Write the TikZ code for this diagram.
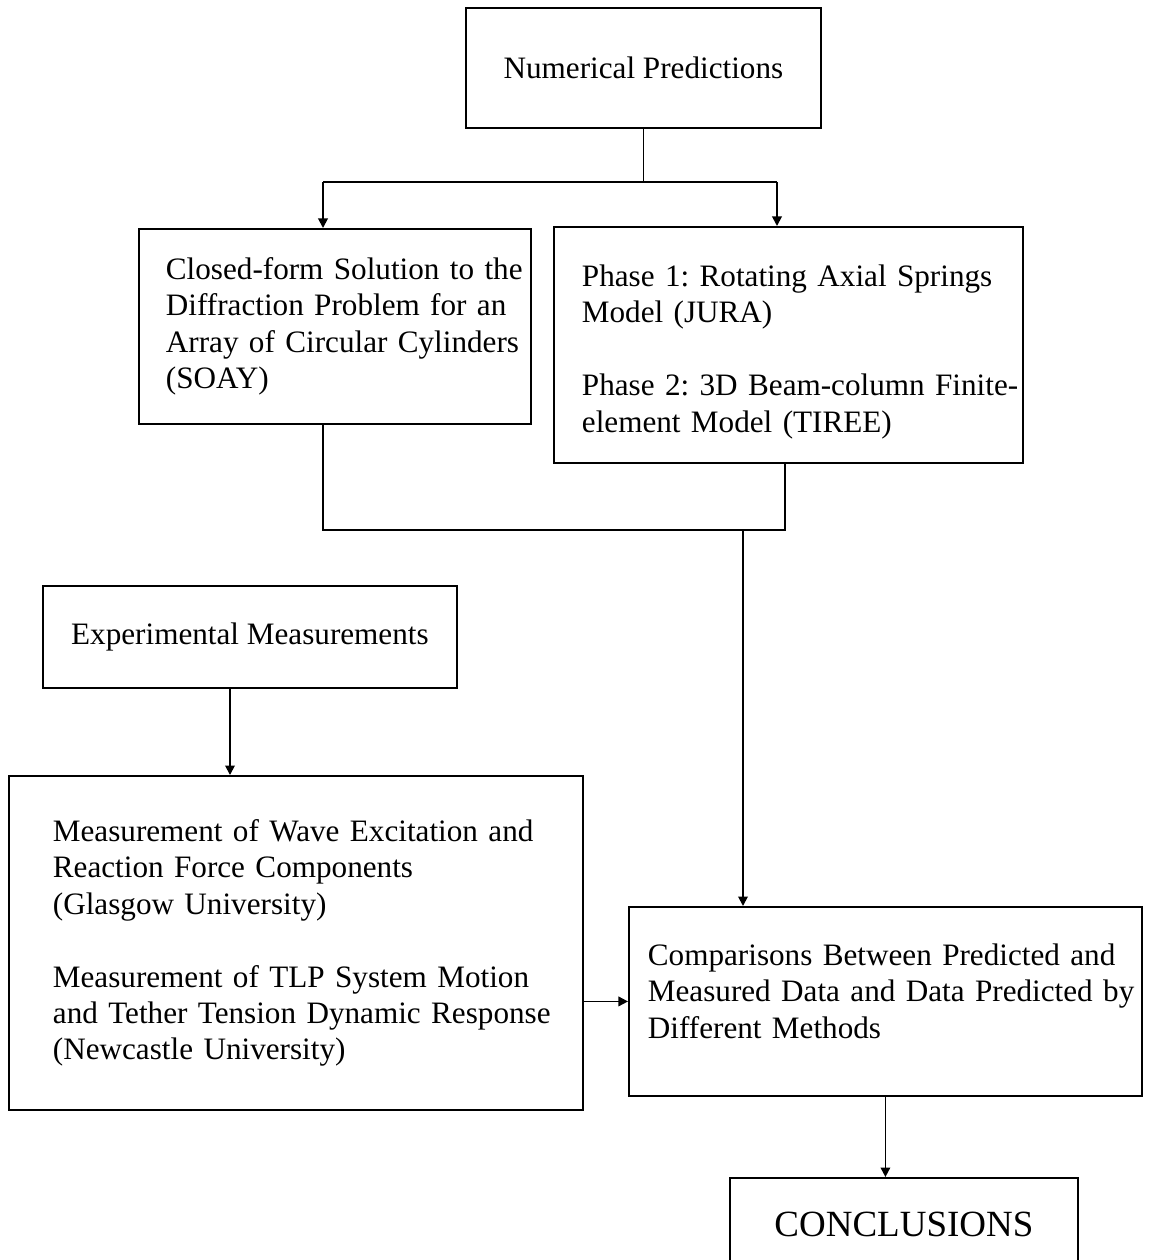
\documentclass[tikz,border=0pt]{standalone}
\usepackage{fontspec}
\setmainfont{Liberation Serif}
\usetikzlibrary{arrows.meta}
\newlength{\pxu}
\setlength{\pxu}{0.0133cm}
\frenchspacing
\tikzset{
  box/.style={draw, line width=0.7pt, anchor=north west, inner ysep=0pt, align=left},
  link/.style={line width=0.7pt},
  arrowlink/.style={line width=0.7pt, -{Triangle[length=3.6pt,width=3.6pt]}}
}

\begin{document}
\begin{tikzpicture}[x=0.0133cm, y=-0.0133cm, font=\fontsize{11.8}{13.8}\selectfont]
    \useasboundingbox (0,0) rectangle (1159,1260);

    % Numerical side
    \node[box, align=center, minimum width=355\pxu, minimum height=120\pxu] (np) at (465,7) {Numerical Predictions};
    \node[box, minimum height=195\pxu, inner xsep=27\pxu, text width=338\pxu] (soay) at (138,228)
        {\mbox{Closed-form Solution to the}\\\mbox{Diffraction Problem for an}\\\mbox{Array of Circular Cylinders}\\(SOAY)};
    \node[box, minimum height=236\pxu, inner xsep=28\pxu, text width=413\pxu] (jura) at (553,226)
        {\rule{0pt}{13.4pt}\mbox{Phase 1: Rotating Axial Springs}\\Model (JURA)\\[13.8pt]\mbox{Phase 2: 3D Beam-column Finite-}\\\mbox{element Model (TIREE)}};

    % Experimental side
    \node[box, align=center, minimum width=414\pxu, minimum height=102\pxu] (exp) at (42,585) {Experimental Measurements};
    \node[box, minimum height=334\pxu, inner xsep=44\pxu, text width=486\pxu] (meas) at (8,775)
        {\mbox{Measurement of Wave Excitation and}\\\mbox{Reaction Force Components}\\\mbox{(Glasgow University)}\\[13.8pt]\mbox{Measurement of TLP System Motion}\\\mbox{and Tether Tension Dynamic Response}\\\mbox{(Newcastle University)}};

    % Comparison and conclusions
    \node[box, minimum height=189\pxu, inner xsep=19\pxu, text width=475\pxu] (comp) at (628,906)
        {\mbox{Comparisons Between Predicted and}\\\mbox{Measured Data and Data Predicted by}\\\mbox{Different Methods}\\[-6pt]\mbox{}};
    \node[box, align=center, minimum width=348\pxu, minimum height=92\pxu, font=\fontsize{14}{16}\selectfont] (concl) at (729,1177) {CONCLUSIONS};

    % split below the numerical predictions
    \coordinate (splitL) at (323,182);
    \coordinate (splitR) at (777,182);
    \draw[link] (np.south) -- (np.south |- splitL);
    \draw[link] (splitL) -- (splitR);
    \draw[arrowlink] (splitL) -- (splitL |- soay.north);
    \draw[arrowlink] (splitR) -- (splitR |- jura.north);

    % join of the two numerical methods
    \coordinate (joinL) at (323,530);
    \coordinate (joinR) at (785,530);
    \coordinate (joinDown) at (743,530);
    \draw[link] (joinL |- soay.south) -- (joinL) -- (joinR) -- (joinR |- jura.south);
    \draw[arrowlink] (joinDown) -- (joinDown |- comp.north);

    % experimental links
    \coordinate (expDrop) at (230,700);
    \draw[arrowlink] (expDrop |- exp.south) -- (expDrop |- meas.north);
    \draw[arrowlink] (meas.east |- comp.west) -- (comp.west);
    \draw[arrowlink] (comp.south) -- (comp.south |- concl.north);
\end{tikzpicture}
\end{document}
